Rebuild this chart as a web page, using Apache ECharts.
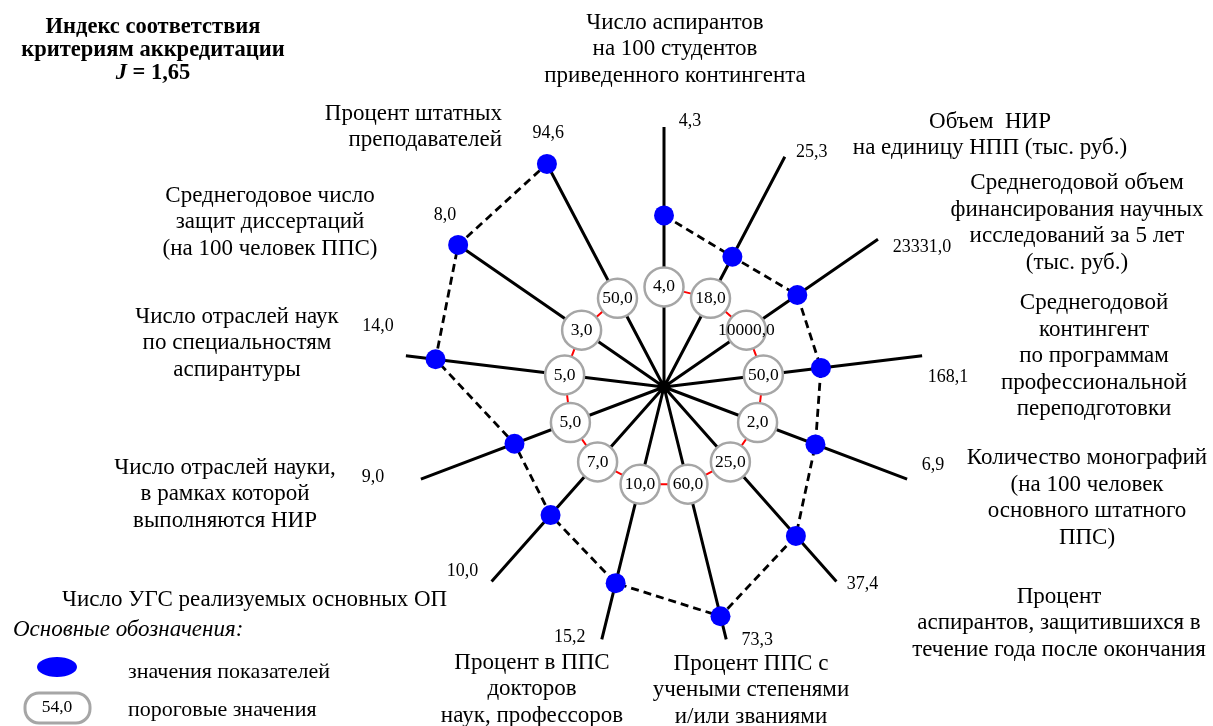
<!DOCTYPE html>
<html><head><meta charset="utf-8">
<script src="https://cdn.jsdelivr.net/npm/echarts@6/dist/echarts.min.js"></script>
<style>html,body{margin:0;padding:0;background:#fff}#c{width:1213px;height:726px}</style>
</head><body><div id="c"></div>
<script>
// ---- data ----
const axisNames = [
  'Число аспирантов\nна 100 студентов\nприведенного контингента',
  'Объем  НИР\nна единицу НПП (тыс. руб.)',
  'Среднегодовой объем\nфинансирования научных\nисследований за 5 лет\n(тыс. руб.)',
  'Среднегодовой\nконтингент\nпо программам\nпрофессиональной\nпереподготовки',
  'Количество монографий\n(на 100 человек\nосновного штатного\nППС)',
  'Процент\nаспирантов, защитившихся в\nтечение года после окончания',
  'Процент ППС с\nучеными степенями\nи/или званиями',
  'Процент в ППС\nдокторов\nнаук, профессоров',
  'Число УГС реализуемых основных ОП',
  'Число отраслей науки,\nв рамках которой\nвыполняются НИР',
  'Число отраслей наук\nпо специальностям\nаспирантуры',
  'Среднегодовое число\nзащит диссертаций\n(на 100 человек ППС)',
  'Процент штатных\nпреподавателей'
];
const actualValues = [4.3, 25.3, 23331.0, 168.1, 6.9, 37.4, 73.3, 15.2, 10.0, 9.0, 14.0, 8.0, 94.6];
const thresholdValues = [4.0, 18.0, 10000.0, 50.0, 2.0, 25.0, 60.0, 10.0, 7.0, 5.0, 5.0, 3.0, 50.0];
// radial position of the points on each axis (% of axis length)
const scorePosition = [66.0, 56.6, 62.3, 60.8, 62.3, 76.5, 90.8, 77.7, 65.8, 61.5, 88.5, 96.2, 96.9];
const thresholdPosition = [38.5, 38.5, 38.5, 38.5, 38.5, 38.5, 38.5, 38.5, 38.5, 38.5, 38.5, 38.5, 38.5];
const axisEnd = [100, 100, 100, 100, 100, 100, 100, 100, 100, 100, 100, 100, 100];
const indexTitle = 'Индекс соответствия\nкритериям аккредитации';
const indexValue = '1,65';
const legendValue = 54.0;

// ---- layout / style ----
const FONT = '"Liberation Serif", "Times New Roman", serif';
const fmt = v => v.toFixed(1).replace('.', ',');
const nameLayout = [
  [675, 49, 'center'], [990, 135, 'center'], [1077, 223, 'center'], [1094, 356, 'center'],
  [1087, 498, 'center'], [1059, 623, 'center'], [751, 690, 'center'], [532, 689, 'center'],
  [62, 600, 'left'], [225, 494, 'center'], [237, 343, 'center'], [270, 222, 'center'], [502, 127, 'right']
];
const endLabelOffset = [
  [26, -6], [27, -5], [44, 8], [26, 22], [26, -14], [26, 3], [31, 1],
  [-32, -2], [-29, -10], [-48, -2], [-28, -29], [-5, -24], [5, -24]
];

const n = axisNames.length;
const closed = arr => arr.map((v, i) => [v, i]).concat([{ value: [arr[0], 0], symbol: 'none', label: { show: false } }]);
const txt = (x, y, text, font, align) => ({
  type: 'text', x: x, y: y, silent: true,
  style: {
    text: text, font: font, fill: '#000', lineHeight: 26.5,
    textAlign: align, align: align, textVerticalAlign: 'middle', verticalAlign: 'middle'
  }
});

const graphics = axisNames.map((t, i) => txt(nameLayout[i][0], nameLayout[i][1], t, '23px ' + FONT, nameLayout[i][2]));
graphics.push({
  type: 'text', x: 153, y: 50, silent: true,
  style: {
    text: indexTitle + '\n{i|J} = ' + indexValue,
    font: 'bold 22.5px ' + FONT, fill: '#000', lineHeight: 23,
    textAlign: 'center', align: 'center', textVerticalAlign: 'middle', verticalAlign: 'middle',
    rich: { i: { fontStyle: 'italic', fontWeight: 'bold', fontSize: 22.5, fontFamily: FONT, lineHeight: 23 } }
  }
});
// legend
graphics.push(
  txt(13, 630, 'Основные обозначения:', 'italic 23px ' + FONT, 'left'),
  { type: 'ellipse', shape: { cx: 57, cy: 667, rx: 20, ry: 10 }, style: { fill: '#0000ff' }, silent: true },
  txt(128, 672, 'значения показателей', '22px ' + FONT, 'left'),
  { type: 'rect', shape: { x: 25, y: 693, width: 65, height: 30, r: 14 }, style: { fill: '#fff', stroke: '#a6a6a6', lineWidth: 3 }, silent: true },
  txt(57, 707, fmt(legendValue), '17.5px ' + FONT, 'center'),
  txt(128, 710, 'пороговые значения', '22px ' + FONT, 'left')
);

const chart = echarts.init(document.getElementById('c'), null, { renderer: 'canvas' });
chart.setOption({
  animation: false,
  backgroundColor: '#fff',
  polar: { center: [664, 387], radius: 260 },
  angleAxis: {
    type: 'category', data: axisNames, boundaryGap: false, startAngle: 90, clockwise: true,
    axisLine: { show: false }, axisTick: { show: false }, axisLabel: { show: false },
    splitLine: { show: true, lineStyle: { color: '#000', width: 3 } }, splitArea: { show: false }
  },
  radiusAxis: {
    type: 'value', min: 0, max: 100,
    axisLine: { show: false }, axisTick: { show: false }, axisLabel: { show: false },
    splitLine: { show: false }, splitArea: { show: false }
  },
  series: [
    {
      type: 'line', coordinateSystem: 'polar', z: 3,
      data: closed(thresholdPosition),
      showAllSymbol: true, symbol: 'circle', symbolSize: 39,
      lineStyle: { color: '#ff0000', width: 2 },
      itemStyle: { color: '#ffffff', borderColor: '#a6a6a6', borderWidth: 2.5 },
      label: {
        show: true, position: 'inside', color: '#000', fontSize: 17.5, fontFamily: FONT,
        formatter: p => fmt(thresholdValues[p.dataIndex % n])
      },
      emphasis: { disabled: true }
    },
    {
      type: 'line', coordinateSystem: 'polar', z: 4,
      data: closed(scorePosition),
      showAllSymbol: true, symbol: 'circle', symbolSize: 20,
      lineStyle: { color: '#000', width: 2.8, type: [8, 5] },
      itemStyle: { color: '#0000ff' },
      emphasis: { disabled: true }
    },
    {
      type: 'scatter', coordinateSystem: 'polar', z: 5, symbolSize: 0,
      itemStyle: { opacity: 1 },
      data: axisEnd.map((v, i) => ({
        value: [v, i],
        label: { offset: endLabelOffset[i] }
      })),
      label: {
        show: true, position: 'inside', color: '#000', opacity: 1, fontSize: 18, fontFamily: FONT,
        formatter: p => fmt(actualValues[p.dataIndex])
      },
      emphasis: { disabled: true }
    }
  ],
  graphic: { elements: graphics }
});
</script>
</body></html>
